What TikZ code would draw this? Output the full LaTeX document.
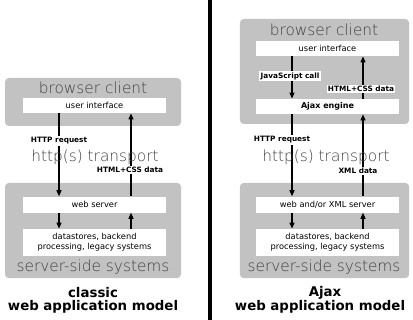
\documentclass[tikz,border=0pt]{standalone}
\usepackage{fontspec}
\setmainfont{DejaVu Sans}
\newfontfamily\thinfont{DejaVuSans-ExtraLight.ttf}
\usetikzlibrary{arrows.meta,positioning}

\begin{document}
\begin{tikzpicture}[x=0.75pt,y=-0.75pt,
        greybox/.style={rectangle, fill=black!24, rounded corners=3pt, minimum width=132pt, inner sep=0pt},
        whitebox/.style={rectangle, fill=white, minimum width=107pt, minimum height=11.5pt, inner sep=0pt, align=center, font=\fontsize{6.2}{7.4}\selectfont},
        bigtext/.style={text=black!75, font=\thinfont\fontsize{11.5}{13}\selectfont, inner sep=0pt},
        arrlabel/.style={fill=white, inner sep=1pt, font=\bfseries\fontsize{5.5}{6.5}\selectfont},
        titlenode/.style={font=\bfseries\fontsize{10}{11}\selectfont, inner sep=0pt},
        arr/.style={line width=0.8pt, -{Triangle[length=4.5pt,width=3.8pt]}},
    ]
    \useasboundingbox (0,0) rectangle (413,320);

    % divider
    \draw[line width=3pt] (210,0) -- (210,320);

    % classic model
    \node[greybox, minimum height=36pt] (bcL) at (93,102) {};
    \node[bigtext] (bcLt) at (93,88) {browser client};
    \node[whitebox] (uiL) at (94.5,105.5) {user interface};

    \node[greybox, minimum height=71.5pt] (ssL) at (93,230.5) {};
    \node[whitebox, minimum height=12pt] (wsL) at (94.5,204.5) {web server};
    \node[whitebox, minimum height=20.5pt] (dsL) at (94.5,242.5) {datastores, backend\\processing, legacy systems};
    \node[bigtext] (ssLt) at (93,267) {server-side systems};

    \coordinate (dL) at (59,0);
    \coordinate (uL) at (131,0);
    \draw[arr] (uiL.south -| dL) -- (wsL.north -| dL);
    \draw[arr] (wsL.north -| uL) -- (uiL.south -| uL);
    \draw[arr] (wsL.south -| dL) -- (dsL.north -| dL);
    \draw[arr] (dsL.north -| uL) -- (wsL.south -| uL);

    \node[arrlabel] (reqL) at (59,141) {HTTP request};
    \node[arrlabel] (resL) at (130,170) {HTML+CSS data};
    \node[bigtext] (trL) at (95,157) {http(s) transport};

    \node[titlenode] (t1L) at (93,293) {classic};
    \node[titlenode] (t2L) at (93,307) {web application model};

    % Ajax model
    \node[greybox, minimum width=127pt, minimum height=78.75pt] (bcR) at (324.5,71.5) {};
    \node[bigtext] (bcRt) at (324,30) {browser client};
    \node[whitebox] (uiR) at (327.5,48.5) {user interface};
    \node[whitebox, font=\bfseries\fontsize{6}{7}\selectfont] (ae) at (327.5,106.5) {Ajax engine};

    \node[greybox, minimum width=127pt, minimum height=71.5pt] (ssR) at (324.5,230.5) {};
    \node[whitebox, minimum height=12pt] (wsR) at (327.5,204.5) {web and/or XML server};
    \node[whitebox, minimum height=20.5pt] (dsR) at (327.5,242.5) {datastores, backend\\processing, legacy systems};
    \node[bigtext] (ssRt) at (324,267) {server-side systems};

    \coordinate (dR) at (292,0);
    \coordinate (uR) at (363,0);
    \draw[arr] (uiR.south -| dR) -- (ae.north -| dR);
    \draw[arr] (ae.north -| uR) -- (uiR.south -| uR);
    \draw[arr] (ae.south -| dR) -- (wsR.north -| dR);
    \draw[arr] (wsR.north -| uR) -- (ae.south -| uR);
    \draw[arr] (wsR.south -| dR) -- (dsR.north -| dR);
    \draw[arr] (dsR.north -| uR) -- (wsR.south -| uR);

    \node[arrlabel] (jsR) at (290,76) {JavaScript call};
    \node[arrlabel] (htR) at (361,89) {HTML+CSS data};
    \node[arrlabel] (reqR) at (282,140) {HTTP request};
    \node[arrlabel] (xmlR) at (358,171) {XML data};
    \node[bigtext] (trR) at (326,157) {http(s) transport};

    \node[titlenode] (t1R) at (325,293) {Ajax};
    \node[titlenode] (t2R) at (320,307) {web application model};
\end{tikzpicture}
\end{document}
